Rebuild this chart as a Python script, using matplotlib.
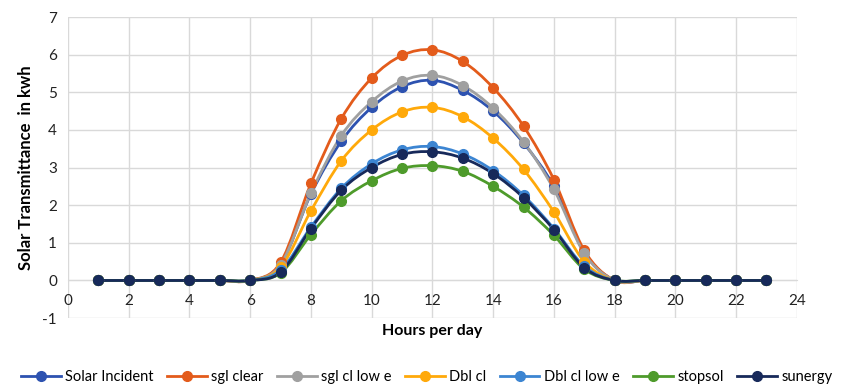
"""
Solar transmittance per hour of day for several glazing types
"""
import matplotlib
matplotlib.use("Agg")
import matplotlib.pyplot as plt
from matplotlib.path import Path
from matplotlib.patches import PathPatch
from matplotlib.lines import Line2D
import numpy as np

plt.rcParams['font.family'] = ['Lato', 'DejaVu Sans']
plt.rcParams['axes.unicode_minus'] = False

hours = list(range(1, 24))
zeros6 = [0, 0, 0, 0, 0, 0]

solar_incident = zeros6 + [0.42, 2.30, 3.70, 4.60, 5.15, 5.32, 5.05, 4.50, 3.65, 2.50, 0.75] + zeros6
sgl_clear = zeros6 + [0.48, 2.58, 4.30, 5.38, 5.98, 6.13, 5.82, 5.12, 4.10, 2.68, 0.80] + zeros6
sgl_cl_low_e = zeros6 + [0.42, 2.32, 3.85, 4.75, 5.30, 5.45, 5.18, 4.58, 3.68, 2.42, 0.72] + zeros6
dbl_cl = zeros6 + [0.35, 1.85, 3.18, 4.00, 4.48, 4.60, 4.35, 3.78, 2.95, 1.82, 0.50] + zeros6
dbl_cl_low_e = zeros6 + [0.28, 1.42, 2.45, 3.10, 3.47, 3.56, 3.36, 2.92, 2.26, 1.38, 0.38] + zeros6
stopsol = zeros6 + [0.20, 1.22, 2.12, 2.65, 2.98, 3.05, 2.90, 2.50, 1.95, 1.20, 0.30] + zeros6
sunergy = zeros6 + [0.22, 1.38, 2.40, 3.00, 3.35, 3.42, 3.25, 2.84, 2.20, 1.35, 0.34] + zeros6

series = [
    ("Solar Incident", solar_incident, "#2D52B0"),
    ("sgl clear", sgl_clear, "#E35B1B"),
    ("sgl cl low e", sgl_cl_low_e, "#A0A0A0"),
    ("Dbl cl", dbl_cl, "#FFA90A"),
    ("Dbl cl low e", dbl_cl_low_e, "#3C85D2"),
    ("stopsol", stopsol, "#4E9B2B"),
    ("sunergy", sunergy, "#17295A"),
]


def smooth_path(x, y, t=1 / 6):
    # Excel style smoothed line: cubic bezier through every point
    x = np.asarray(x, float)
    y = np.asarray(y, float)
    verts = [(x[0], y[0])]
    codes = [Path.MOVETO]
    n = len(x)
    for i in range(n - 1):
        p0 = np.array([x[max(i - 1, 0)], y[max(i - 1, 0)]])
        p1 = np.array([x[i], y[i]])
        p2 = np.array([x[i + 1], y[i + 1]])
        p3 = np.array([x[min(i + 2, n - 1)], y[min(i + 2, n - 1)]])
        c1 = p1 + (p2 - p0) * t
        c2 = p2 - (p3 - p1) * t
        verts += [tuple(c1), tuple(c2), tuple(p2)]
        codes += [Path.CURVE4] * 3
    return Path(verts, codes)


fig = plt.figure(figsize=(8.45, 3.87), dpi=100)
ax = fig.add_axes([0.0805, 0.178, 0.8625, 0.778])

handles = []
for name, vals, color in series:
    ax.add_patch(PathPatch(smooth_path(hours, vals), fill=False,
                           edgecolor=color, lw=2.0, zorder=3,
                           capstyle='round', joinstyle='round'))
    ax.plot(hours, vals, ls='none', marker='o', ms=7, color=color, zorder=4)
    handles.append(Line2D([], [], color=color, lw=2.0, marker='o', ms=7, label=name))

ax.set_xlim(0, 24)
ax.set_ylim(-1, 7)
ax.set_xticks(range(0, 25, 2))
ax.set_yticks(range(-1, 8))
ax.grid(True, color='#D9D9D9', lw=1.0, zorder=0)
ax.set_axisbelow(True)

for s in ['top', 'right', 'left']:
    ax.spines[s].set_visible(False)
ax.spines['bottom'].set_position(('data', 0))
ax.spines['bottom'].set_color('#D9D9D9')
ax.tick_params(axis='both', length=0, labelsize=11, colors='#222222')
ax.tick_params(axis='x', pad=10)
ax.tick_params(axis='y', pad=8)

ax.set_ylabel('Solar Transmittance  in kwh', fontsize=12, fontweight='bold', labelpad=6)
fig.text(0.511, 0.145, 'Hours per day', fontsize=11.5, fontweight='bold',
         ha='center', va='center')

fig.legend(handles=handles, loc='center', bbox_to_anchor=(0.505, 0.026), ncol=7,
           frameon=False, fontsize=10.5, handlelength=2.7, handletextpad=0.3,
           columnspacing=0.95)

fig.savefig('out.png', dpi=100)
